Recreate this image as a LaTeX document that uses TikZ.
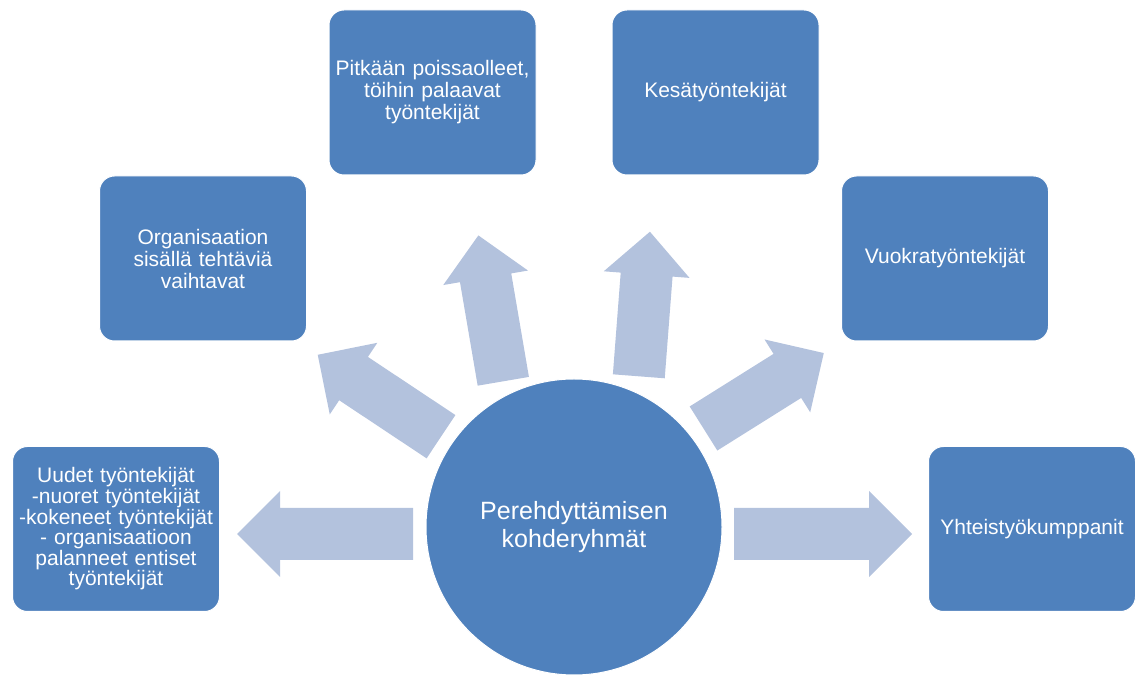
\documentclass[tikz,border=0pt]{standalone}
\usepackage{fontspec}
\setmainfont{Liberation Sans}
\usepackage{tikz}
\definecolor{boxblue}{HTML}{4F81BD}
\definecolor{arrowblue}{RGB}{179,194,221}

\begin{document}
\begin{tikzpicture}[x=1pt,y=1pt,
grp/.style={rectangle,rounded corners=15pt,fill=boxblue,draw=white,line width=1pt,text=white,minimum width=207pt,minimum height=165pt,text width=200pt,inner sep=0pt,align=center,font=\fontsize{21}{22}\selectfont},
hubnode/.style={circle,fill=boxblue,draw=white,line width=1pt,text=white,minimum size=296pt,inner sep=0pt,align=center,font=\fontsize{25}{28}\selectfont},
blockarr/.style={fill=arrowblue}]
\useasboundingbox (0,0) rectangle (1136,675);
\foreach \x/\y/\a/\l in %
{413/141/180/176,441/238.3/146.4/148,503.3/293.7/99.7/148,638.8/298.7/85.6/145,703.5/246.5/32.1/142,734/141/0/178} {
   \fill[blockarr,shift={(\x,\y)},rotate=\a] (0,-26) -- (\l-43,-26) -- (\l-43,-43) -- (\l,0) -- (\l-43,43) -- (\l-43,26) -- (0,26) -- cycle;
}
\node[hubnode] (hub) at (574,148) {Perehdyttämisen\\kohderyhmät};
\node[grp,font=\fontsize{21}{20.6}\selectfont] (uudet) at (116,146) {Uudet työntekijät\\-nuoret työntekijät\\-kokeneet työntekijät\\- organisaatioon\\palanneet entiset\\työntekijät};
\node[grp] (sisainen) at (203,416.5) {Organisaation\\sisällä tehtäviä\\vaihtavat};
\node[grp] (palaavat) at (432.5,582.5) {Pitkään poissaolleet,\\töihin palaavat\\työntekijät};
\node[grp] (kesa) at (715.5,582.5) {Kesätyöntekijät};
\node[grp] (vuokra) at (945,416.5) {Vuokratyöntekijät};
\node[grp] (kumppanit) at (1032,146) {Yhteistyökumppanit};
\end{tikzpicture}
\end{document}
